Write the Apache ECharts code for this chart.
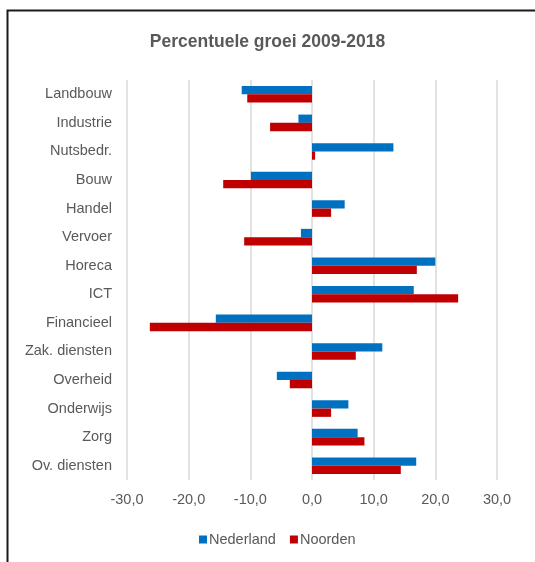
<!DOCTYPE html>
<html>
<head>
<meta charset="utf-8">
<script src="https://cdn.jsdelivr.net/npm/echarts@6/dist/echarts.min.js"></script>
<style>
  html, body { margin: 0; padding: 0; background: #fff; }
  #chart { width: 535px; height: 562px; }
</style>
</head>
<body>
<div id="chart"></div>
<script>
const categories = ['Landbouw', 'Industrie', 'Nutsbedr.', 'Bouw', 'Handel', 'Vervoer', 'Horeca',
    'ICT', 'Financieel', 'Zak. diensten', 'Overheid', 'Onderwijs', 'Zorg', 'Ov. diensten'];
const nederland = [-11.4, -2.2, 13.2, -9.9, 5.3, -1.8, 20.0, 16.5, -15.6, 11.4, -5.7, 5.9, 7.4, 16.9];
const noorden = [-10.5, -6.8, 0.5, -14.4, 3.1, -11.0, 17.0, 23.7, -26.3, 7.1, -3.6, 3.1, 8.5, 14.4];
const xTicks = [-30, -20, -10, 0, 10, 20, 30];

const font = '"Liberation Sans", Arial, sans-serif';
const chart = echarts.init(document.getElementById('chart'));

const option = {
    animation: false,
    title: {
        text: 'Percentuele groei 2009-2018',
        left: 'center',
        top: 28,
        textStyle: { fontFamily: font, fontSize: 17.5, fontWeight: 'bold', color: '#595959' }
    },
    graphic: [{
        type: 'rect',
        shape: { x: 7.5, y: 10.5, width: 700, height: 700 },
        style: { fill: 'none', stroke: '#1a1a1a', lineWidth: 2 },
        silent: true
    }],
    legend: {
        left: 194,
        top: 527,
        itemWidth: 8,
        itemHeight: 8,
        itemGap: 14,
        icon: 'rect',
        textStyle: { fontFamily: font, fontSize: 14.5, color: '#595959', padding: [0, 0, 0, -3] },
        data: ['Nederland', 'Noorden']
    },
    grid: { left: 127, width: 370, top: 80, height: 400, containLabel: false },
    xAxis: {
        type: 'value',
        min: xTicks[0],
        max: xTicks[xTicks.length - 1],
        interval: 10,
        axisLine: { show: false },
        axisTick: { show: false },
        splitLine: { lineStyle: { color: '#d9d9d9', width: 1.5 } },
        axisLabel: {
            margin: 12,
            fontFamily: font, fontSize: 14.5, color: '#595959',
            formatter: v => v.toFixed(1).replace('.', ',')
        }
    },
    yAxis: {
        type: 'category',
        inverse: true,
        data: categories,
        axisLine: { show: false },
        axisTick: { show: false },
        axisLabel: { margin: 15, fontFamily: font, fontSize: 14.5, color: '#595959' }
    },
    series: [
        {
            name: 'Nederland', type: 'bar', data: nederland,
            barGap: '0%', barCategoryGap: '42%',
            itemStyle: { color: '#0070C0' }
        },
        {
            name: 'Noorden', type: 'bar', data: noorden,
            barGap: '0%', barCategoryGap: '42%',
            itemStyle: { color: '#C00000' }
        }
    ]
};

chart.setOption(option);
</script>
</body>
</html>
